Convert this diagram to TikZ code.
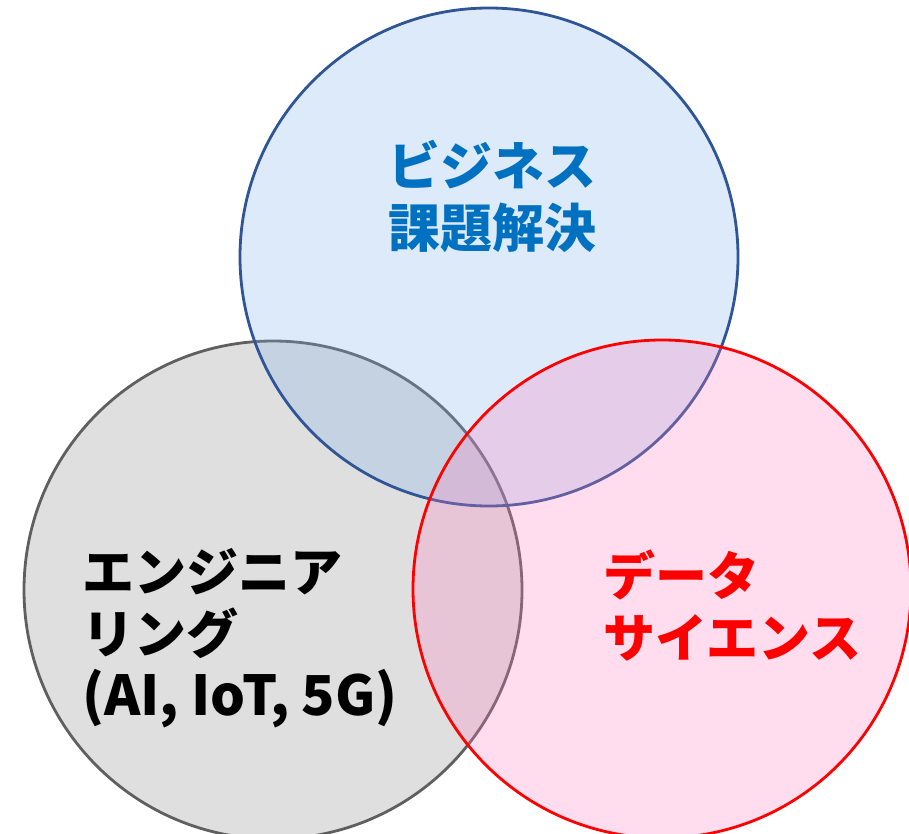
\documentclass[tikz,border=0pt]{standalone}
\usepackage{fontspec}
\newfontfamily\jp{Noto Sans CJK JP}
\definecolor{bluefill}{RGB}{120,175,235}
\definecolor{redfill}{RGB}{255,124,190}
\definecolor{grayfill}{RGB}{223,223,223}
\definecolor{blueline}{RGB}{47,85,151}
\definecolor{grayline}{RGB}{95,95,95}
\definecolor{textblue}{RGB}{0,112,192}
\tikzset{
  venn/.style={line width=2.8pt},
  lbl/.style={inner sep=0pt, font=\jp\bfseries\fontsize{52}{62}\selectfont}
}
\begin{document}
\begin{tikzpicture}[x=1pt,y=-1pt]
\useasboundingbox (0,0) rectangle (909,833);
\begin{scope}
\clip (0,0) rectangle (909,833);
\draw[venn, draw=grayline, fill=grayfill] (273,590) circle[radius=249];
\draw[venn, draw=blueline, fill=bluefill, fill opacity=0.26] (489,257) circle[radius=249];
\draw[venn, draw=red, fill=redfill, fill opacity=0.26] (662,589) circle[radius=249];
\end{scope}
\node[lbl, text=textblue, align=center] (biz) at (492,196) {ビジネス\\課題解決};
\node[lbl, text=black, align=left, anchor=north west] (eng) at (82,548) {エンジニア\\リング\\{\fontsize{55}{62}\selectfont (AI, IoT, 5G)}};
\node[lbl, text=red, align=left, anchor=north west] (ds) at (603,550) {データ\\サイエンス};
\end{tikzpicture}
\end{document}
